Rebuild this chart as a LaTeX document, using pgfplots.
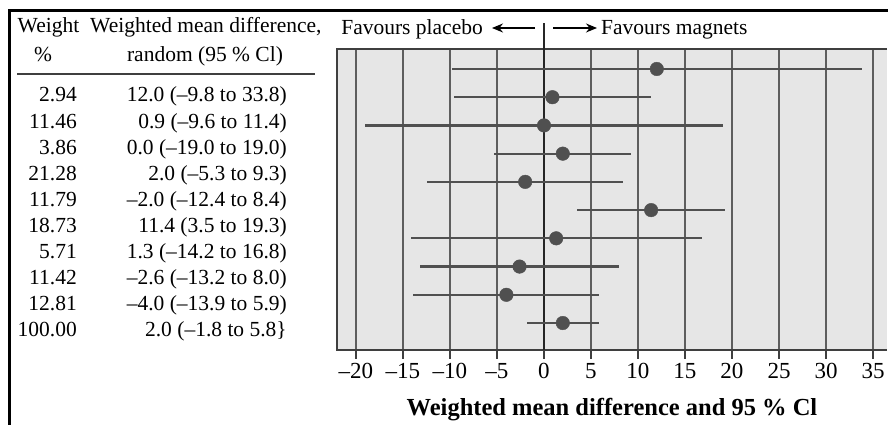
\documentclass[border=0pt]{standalone}
\usepackage{fontspec}
\setmainfont{Liberation Serif}
\usepackage{pgfplots}
\usepackage{pgfplotstable}
\pgfplotsset{compat=1.18}
\usetikzlibrary{arrows.meta}
\definecolor{bgc}{HTML}{E6E6E6}
\definecolor{gridc}{HTML}{5E5E5E}
\definecolor{framec}{HTML}{3F3F3F}
\definecolor{datc}{HTML}{505050}
\newcommand{\tf}{\fontsize{21.5}{24}\selectfont}
% mean, row position, half-width of 95% CI
\pgfplotstableread{
m y err
12.0 10 21.8
0.9 9 10.5
0.0 8 19.0
2.0 7 7.3
-2.0 6 10.4
11.4 5 7.9
1.3 4 15.5
-2.6 3 10.6
-4.0 2 9.9
2.0 1 3.8
}\wmd
\begin{document}
\begin{tikzpicture}
\useasboundingbox (0,0) rectangle (888pt,425pt);
\begin{axis}[
 at={(337pt,75pt)}, anchor=south west,
 scale only axis, width=550pt, height=301pt,
 xmin=-22.02, xmax=36.49, ymin=0.044, ymax=10.708,
 axis background/.style={fill=bgc},
 axis line style={draw=none},
 xtick={-20,-15,...,35},
 xticklabels={–20,–15,–10,–5,0,5,10,15,20,25,30,35},
 ytick=\empty,
 xtick pos=left, tick align=outside, major tick length=9pt,
 tick style={framec, line width=1.2pt},
 xmajorgrids, grid style={gridc, line width=1.1pt},
 xticklabel style={font=\fontsize{23}{25}\selectfont, yshift=-1pt},
 xlabel={Weighted mean difference and 95 \% Cl},
 xlabel style={font=\fontsize{24.5}{26}\selectfont\bfseries, at={(rel axis cs:0.5,0)}, anchor=base, yshift=-65pt},
 clip=false,
]
\draw[framec, line width=1.5pt] (rel axis cs:1,1) -- (rel axis cs:0,1) -- (rel axis cs:0,0) -- (rel axis cs:1,0);
\draw[black!85, line width=1.3pt] (axis cs:0,0.044) -- (axis cs:0,11.63);
\addplot[only marks, mark=*, mark size=6.8pt, datc, mark options={fill=datc, draw=none},
  error bars/.cd, x dir=both, x explicit, error mark=none, error bar style={datc, line width=2.2pt}]
  table[x=m, y=y, x error=err] {\wmd};
\end{axis}
\begin{scope}[x=1pt,y=-1pt,shift={(0,425pt)}]
\node[anchor=base, font=\tf, inner sep=0] at (48.5,33) {Weight};
\node[anchor=base, font=\tf, inner sep=0] at (43,62) {\%};
\node[anchor=base west, font=\tf, inner sep=0] at (90,33) {Weighted mean difference,};
\node[anchor=base, font=\tf, inner sep=0] at (205,62) {random (95 \% Cl)};
\draw[framec, line width=1.4pt] (17,74) -- (315,74);
\foreach \w/\c [count=\i from 0] in {2.94/{12.0 (–9.8 to 33.8)}, 11.46/{0.9 (–9.6 to 11.4)}, 3.86/{0.0 (–19.0 to 19.0)}, 21.28/{2.0 (–5.3 to 9.3)}, 11.79/{–2.0 (–12.4 to 8.4)}, 18.73/{11.4 (3.5 to 19.3)}, 5.71/{1.3 (–14.2 to 16.8)}, 11.42/{–2.6 (–13.2 to 8.0)}, 12.81/{–4.0 (–13.9 to 5.9)}, 100.00/{2.0 (–1.8 to 5.8\}}}{
  \pgfmathsetmacro\yy{102+26.1*\i}
  \node[anchor=base east, font=\tf, inner sep=0] at (77,\yy) {\w};
  \node[anchor=base east, font=\tf, inner sep=0] at (287,\yy) {\c};
}
\node[anchor=base east, font=\tf, inner sep=0] at (483,35) {Favours placebo};
\node[anchor=base west, font=\tf, inner sep=0] at (601,35) {Favours magnets};
\draw[line width=1.3pt, -{Stealth[length=11pt,width=9pt]}] (535,28) -- (492,28);
\draw[line width=1.3pt, -{Stealth[length=11pt,width=9pt]}] (553,28) -- (597,28);
\draw[black, line width=3pt] (8,11) -- (888,11);
\draw[black, line width=3pt] (9.5,9.5) -- (9.5,425);
\end{scope}
\end{tikzpicture}
\end{document}
